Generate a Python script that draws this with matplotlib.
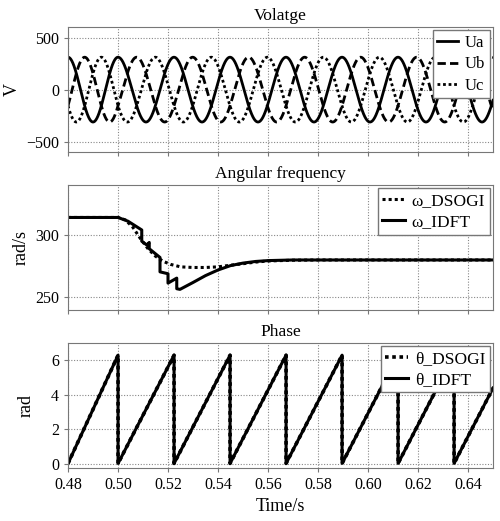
import numpy as np
import matplotlib
matplotlib.use('Agg')
import matplotlib.pyplot as plt

plt.rcParams['font.family'] = ['Liberation Serif', 'DejaVu Serif']
plt.rcParams['mathtext.fontset'] = 'stix'

# grid voltage: amplitude and angular frequency before / after the step at 0.50 s
U_amp = 311.0
w_before = 314.16
w_after = 280.5
t_step = 0.50
t_start, t_end = 0.48, 0.65

# estimated angular frequency
t_dsogi = [0.48, 0.50, 0.503, 0.506, 0.509, 0.512, 0.515, 0.518, 0.521, 0.525,
           0.530, 0.535, 0.540, 0.545, 0.550, 0.555, 0.560, 0.570, 0.580, 0.65]
w_dsogi = [314, 314, 312, 306, 297, 289, 283, 279, 276.5, 274.5,
           274, 274, 274.5, 275.8, 277, 278.3, 279.2, 279.8, 280, 280]

t_idft = [0.48, 0.50, 0.504, 0.5095, 0.5095, 0.5115, 0.5125, 0.5125, 0.5168, 0.5168,
          0.5200, 0.5200, 0.5235, 0.5235, 0.5248, 0.530, 0.535, 0.540, 0.545,
          0.550, 0.555, 0.560, 0.570, 0.65]
w_idft = [314, 314, 311, 304, 295, 292, 294, 289, 282, 270.5,
          269, 261.5, 265.5, 257, 256.5, 262, 267.5, 272, 275.5,
          277.5, 278.8, 279.5, 280, 280]

xticks = [0.48, 0.50, 0.52, 0.54, 0.56, 0.58, 0.60, 0.62, 0.64]

# signals
t = np.linspace(t_start, t_end, 4000)
theta_abs = np.where(t < t_step, w_before * (t - t_start),
                     w_before * (t_step - t_start) + w_after * (t - t_step))
ua = U_amp * np.cos(theta_abs)
ub = U_amp * np.cos(theta_abs - 2 * np.pi / 3)
uc = U_amp * np.cos(theta_abs + 2 * np.pi / 3)
theta = np.mod(theta_abs + 1e-9, 2 * np.pi)
theta[0] = 0.0
# vertical drops at the wraps
wrap = np.where(np.diff(theta) < -3)[0]
t_ph = np.insert(t, wrap + 1, t[wrap + 1])
th_ph = np.insert(theta, wrap + 1, 2 * np.pi)

fig = plt.figure(figsize=(5.0, 5.21), dpi=100)
L, W, H = 0.136, 0.850, 0.240
ax1 = fig.add_axes([L, 0.708, W, H])
ax2 = fig.add_axes([L, 0.405, W, H])
ax3 = fig.add_axes([L, 0.102, W, H])

for ax in (ax1, ax2, ax3):
    ax.set_xlim(t_start, t_end)
    ax.set_xticks(xticks)
    ax.grid(True, color='#888888', linestyle=(0, (1, 1.5)), linewidth=0.8)
    for s in ax.spines.values():
        s.set_color('#777777')
        s.set_linewidth(0.8)
    ax.tick_params(direction='out', length=3, color='#777777', labelsize=11.5,
                   top=False, right=False)
ax1.tick_params(labelbottom=False)
ax2.tick_params(labelbottom=False)

leg_kw = dict(loc='upper right', handlelength=1.3, handletextpad=0.4,
              borderpad=0.25, borderaxespad=0.2, fancybox=False,
              framealpha=1, edgecolor='#777777')

lw = 2.0
ax1.plot(t, ua, color='black', lw=lw, label='Ua')
ax1.plot(t, ub, color='black', lw=lw, ls=(0, (3, 1.5)), label='Ub')
ax1.plot(t, uc, color='black', lw=lw, ls=(0, (1, 1)), label='Uc')
ax1.set_ylim(-600, 600)
ax1.set_yticks([-500, 0, 500])
ax1.set_ylabel('V', fontsize=13)
ax1.set_title('Volatge', fontsize=12.5, pad=5)
ax1.legend(fontsize=12, labelspacing=0.35, **leg_kw)

ax2.plot(t_dsogi, w_dsogi, color='black', lw=2.2, ls=(0, (1, 1)), label='ω_DSOGI')
ax2.plot(t_idft, w_idft, color='black', lw=2.2, label='ω_IDFT')
ax2.set_ylim(240, 340)
ax2.set_yticks([250, 300])
ax2.set_ylabel('rad/s', fontsize=13)
ax2.set_title('Angular frequency', fontsize=12.5, pad=5)
ax2.legend(fontsize=12.5, labelspacing=0.3, **leg_kw)

ax3.plot(t_ph, th_ph, color='black', lw=2.6, ls=(0, (1, 1)), label='θ_DSOGI')
ax3.plot(t_ph, th_ph, color='black', lw=2.2, label='θ_IDFT')
ax3.set_ylim(-0.25, 7)
ax3.set_yticks([0, 2, 4, 6])
ax3.set_ylabel('rad', fontsize=13, labelpad=12)
ax3.set_title('Phase', fontsize=12.5, pad=5)
ax3.set_xticklabels(['%.2f' % v for v in xticks])
ax3.set_xlabel('Time/s', fontsize=13)
ax3.legend(fontsize=12.5, labelspacing=0.3, **leg_kw)

fig.savefig('out.png', dpi=100)
